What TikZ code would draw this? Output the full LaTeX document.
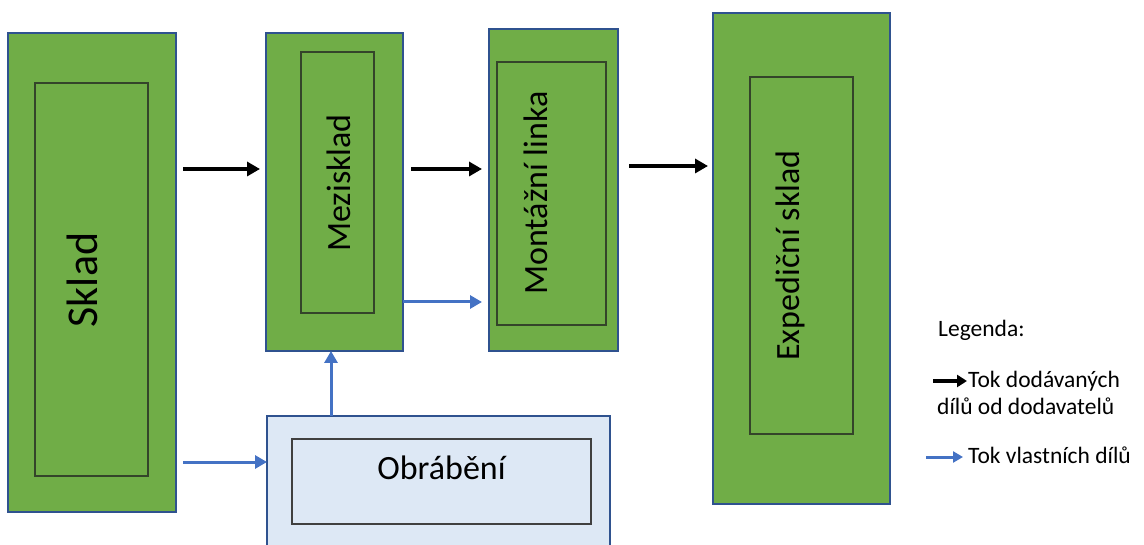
\documentclass[tikz,border=0pt]{standalone}
\usepackage{fontspec}
\setmainfont{Carlito}
\usetikzlibrary{arrows.meta}
\definecolor{boxgreen}{HTML}{70AD47}
\definecolor{boxedge}{HTML}{2F528F}
\definecolor{inneredge}{HTML}{34442A}
\definecolor{flowblue}{HTML}{4472C4}
\definecolor{machfill}{HTML}{DDE8F5}
\definecolor{machinner}{HTML}{404040}
\begin{document}
\begin{tikzpicture}[x=1pt,y=-1pt,
  outerbox/.style={draw=boxedge, line width=2pt, fill=boxgreen, rectangle, outer sep=0pt, inner sep=0pt},
  innerbox/.style={draw=inneredge, line width=1.2pt, fill=boxgreen, rectangle, outer sep=0pt, inner sep=0pt},
  machbox/.style={draw=boxedge, line width=2pt, fill=machfill, rectangle, outer sep=0pt, inner sep=0pt},
  machinnerbox/.style={draw=machinner, line width=1.2pt, fill=machfill, rectangle, outer sep=0pt, inner sep=0pt},
  vlabel/.style={rotate=90, inner sep=0pt, font=\fontsize{34}{40}\selectfont},
  legtext/.style={inner sep=0pt, anchor=base west, font=\fontsize{23.5}{28}\selectfont},
  supplyflow/.style={line width=4.8pt, -{Triangle[length=13pt,width=14pt]}},
  ownflow/.style={draw=flowblue, line width=3pt, -{Triangle[length=12pt,width=13pt]}},
  legsupply/.style={line width=3.8pt, -{Triangle[length=10pt,width=12pt]}},
  legown/.style={draw=flowblue, line width=3pt, -{Triangle[length=10pt,width=11pt]}}
]
\useasboundingbox (0,0) rectangle (1144,545);
\clip (0,0) rectangle (1144,545);

% Sklad
\node[outerbox, minimum width=168pt, minimum height=479pt] (sklad) at (92,272.5) {};
\node[innerbox, minimum width=113pt, minimum height=393pt] (skladin) at (91.5,279.5) {};
\node[vlabel, font=\fontsize{44}{52}\selectfont] (skladtxt) at (82,280) {Sklad};

% Mezisklad
\node[outerbox, minimum width=137pt, minimum height=318pt] (mezi) at (334.5,192) {};
\node[innerbox, minimum width=73pt, minimum height=261pt] (meziin) at (337.5,182.5) {};
\node[vlabel] (mezitxt) at (339,183) {Mezisklad};

% Montážní linka
\node[outerbox, minimum width=129pt, minimum height=322pt] (mont) at (553.5,190) {};
\node[innerbox, minimum width=109pt, minimum height=263pt] (montin) at (551.5,193.5) {};
\node[vlabel] (monttxt) at (536,193) {Montážní linka};

% Expediční sklad
\node[outerbox, minimum width=177pt, minimum height=491pt] (exp) at (801.5,258.5) {};
\node[innerbox, minimum width=103pt, minimum height=357pt] (expin) at (801.5,255.5) {};
\node[vlabel] (exptxt) at (790,255.5) {Expediční sklad};

% Obrábění
\node[machbox, minimum width=343pt, minimum height=144pt] (obr) at (438.5,488) {};
\node[machinnerbox, minimum width=299pt, minimum height=85pt] (obrin) at (441.5,481.5) {};
\node[inner sep=0pt, font=\fontsize{34}{40}\selectfont] (obrtxt) at (441.5,467.5) {Obrábění};

% supplier parts flow
\draw[supplyflow, shorten <=7pt, shorten >=6pt] (sklad.east |- 0,169) -- (mezi.west |- 0,169);
\draw[supplyflow, shorten <=8pt, shorten >=7pt] (mezi.east |- 0,169) -- (mont.west |- 0,169);
\draw[supplyflow, shorten <=11pt, shorten >=5pt] (mont.east |- 0,166) -- (exp.west |- 0,166);

% own parts flow
\draw[ownflow, shorten <=7pt] (sklad.east |- 0,462) -- (obr.west |- 0,462);
\draw[ownflow, shorten >=7pt] (mezi.east |- 0,302) -- (mont.west |- 0,302);
\draw[ownflow] (obr.north -| 331,0) -- (mezi.south -| 331,0);

% legend
\node[legtext] (leghead) at (938,337) {Legenda:};
\coordinate (lsA) at (933,381);
\coordinate (lsB) at (967,381);
\draw[legsupply] (lsA) -- (lsB);
\node[legtext] (legsup1) at (968,388) {Tok dodávaných};
\node[legtext] (legsup2) at (937,414) {dílů od dodavatelů};
\coordinate (loA) at (926,457);
\coordinate (loB) at (963,457);
\draw[legown] (loA) -- (loB);
\node[legtext] (legown1) at (968,464) {Tok vlastních dílů};
\end{tikzpicture}
\end{document}
